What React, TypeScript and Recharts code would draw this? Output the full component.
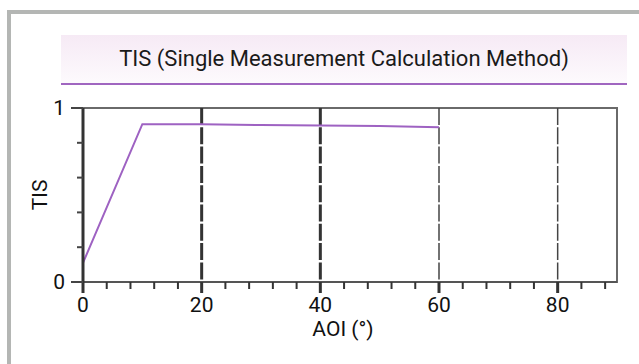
import React from "react";
import { LineChart, Line, XAxis, YAxis, ReferenceLine, ReferenceArea } from "recharts";

const aoi = [0, 10, 20, 30, 40, 50, 60];
const tis = [0.11, 0.907, 0.906, 0.902, 0.9, 0.896, 0.89];
const xTicks = [0, 4, 8, 12, 16, 20, 24, 28, 32, 36, 40, 44, 48, 52, 56, 60, 64, 68, 72, 76, 80, 84, 88];
const xLabelTicks = [0, 20, 40, 60, 80];
const yTicks = [0, 0.2, 0.4, 0.6, 0.8, 1];
const yLabelTicks = [0, 1];
const gridStrong = [20, 40];
const gridLight = [60, 80];

const data = aoi.map((a, i) => ({ aoi: a, tis: tis[i] }));

const FONT = "Roboto, 'Noto Sans', sans-serif";

const XTick = (props: any) => {
  const { x, y, payload } = props;
  const major = xLabelTicks.includes(payload.value);
  return (
    <g>
      <line x1={x} y1={y} x2={x} y2={y + (major ? 11 : 7)} stroke="#333" strokeWidth={major ? 3 : 2} />
      {major && (
        <text x={x} y={y + 30} textAnchor="middle" fontSize={21} fontFamily={FONT} fill="#111">
          {payload.value}
        </text>
      )}
    </g>
  );
};

const YTick = (props: any) => {
  const { x, y, payload } = props;
  const major = yLabelTicks.includes(payload.value);
  return (
    <g>
      <line x1={x - (major ? 12 : 6)} y1={y} x2={x} y2={y} stroke="#444" strokeWidth={2} />
      {major && (
        <text x={x - 18} y={y + 7} textAnchor="end" fontSize={21} fontFamily={FONT} fill="#111">
          {payload.value}
        </text>
      )}
    </g>
  );
};

export default function App() {
  return (
    <div style={{ position: "absolute", left: 0, top: 0, width: 639, height: 364, overflow: "hidden", background: "#fff" }}>
      <div
        style={{
          position: "absolute",
          left: 7,
          top: 10,
          width: 628,
          height: 350,
          borderLeft: "4px solid #b4b6b4",
          borderTop: "4px solid #b4b6b4",
        }}
      />
      <div
        style={{
          position: "absolute",
          left: 61,
          top: 35,
          width: 566,
          height: 48,
          borderBottom: "2px solid #a066c0",
          background: "linear-gradient(#f6eaf5, #fdfafd)",
          fontFamily: FONT,
          fontSize: 22,
          color: "#1a1a1a",
          textAlign: "center",
          lineHeight: "48px",
        }}
      >
        TIS (Single Measurement Calculation Method)
      </div>
      <div style={{ position: "absolute", left: 0, top: 0 }}>
        <LineChart width={639} height={364} data={data} margin={{ top: 108, right: 22, bottom: 42, left: 43 }}>
          <ReferenceArea x1={0} x2={90} y1={0} y2={1} fill="none" stroke="#6a6a6a" strokeWidth={2} ifOverflow="visible" />
          {gridStrong.map((g) => (
            <ReferenceLine key={g} segment={[{ x: g, y: 1 }, { x: g, y: 0 }]} stroke="#333" strokeWidth={3} strokeDasharray="17 2.3" />
          ))}
          {gridLight.map((g) => (
            <ReferenceLine key={g} segment={[{ x: g, y: 1 }, { x: g, y: 0 }]} stroke="#444" strokeWidth={1.5} strokeDasharray="17 2.3" />
          ))}
          <XAxis
            dataKey="aoi"
            type="number"
            domain={[0, 90]}
            ticks={xTicks}
            interval={0}
            height={40}
            tickSize={0}
            tickMargin={0}
            axisLine={{ stroke: "#555", strokeWidth: 2 }}
            tickLine={false}
            tick={<XTick />}
          />
          <YAxis
            type="number"
            domain={[0, 1]}
            ticks={yTicks}
            interval={0}
            width={40}
            tickSize={0}
            tickMargin={0}
            axisLine={{ stroke: "#333", strokeWidth: 3 }}
            tickLine={false}
            tick={<YTick />}
          />
          <Line dataKey="tis" type="linear" stroke="#9e62c2" strokeWidth={2} dot={false} isAnimationActive={false} />
        </LineChart>
      </div>
      <div
        style={{
          position: "absolute",
          left: 343 - 60,
          top: 316,
          width: 120,
          textAlign: "center",
          fontFamily: FONT,
          fontSize: 21,
          color: "#111",
          lineHeight: "26px",
        }}
      >
        AOI (°)
      </div>
      <div
        style={{
          position: "absolute",
          left: 40 - 30,
          top: 195 - 13,
          width: 60,
          textAlign: "center",
          fontFamily: FONT,
          fontSize: 21,
          color: "#111",
          lineHeight: "26px",
          transform: "rotate(-90deg)",
        }}
      >
        TIS
      </div>
    </div>
  );
}
